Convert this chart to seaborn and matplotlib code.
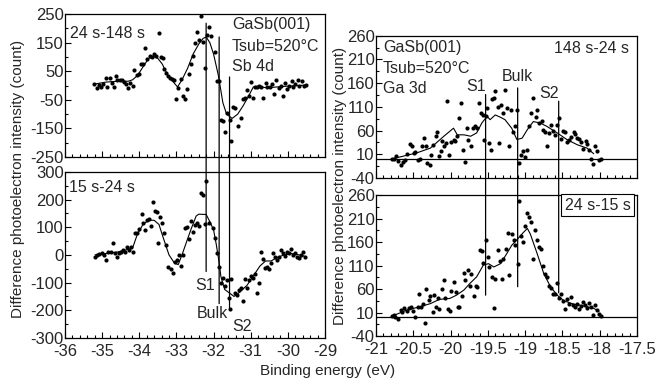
import numpy as np
import pandas as pd
import matplotlib
matplotlib.use("Agg")
import matplotlib.pyplot as plt
from matplotlib.patches import ConnectionPatch
from matplotlib.ticker import MultipleLocator, AutoMinorLocator, FormatStrFormatter
import seaborn as sns

# ---- Sb 4d, 24 s - 148 s (top left) ----
sb_top_e = [-35.21, -35.15, -35.08, -35.03, -34.97, -34.90, -34.86, -34.79, -34.74, -34.68,
            -34.63, -34.59, -34.52, -34.46, -34.41, -34.36, -34.31, -34.25, -34.18, -34.13,
            -34.07, -34.02, -33.96, -33.89, -33.84, -33.78, -33.71, -33.66, -33.60, -33.55,
            -33.48, -33.42, -33.37, -33.33, -33.28, -33.23, -33.17, -33.12, -33.06, -33.01,
            -32.95, -32.89, -32.83, -32.78, -32.72, -32.67, -32.62, -32.56, -32.51, -32.45,
            -32.40, -32.35, -32.29, -32.24, -32.18, -32.13, -32.08, -31.97, -31.92, -31.86,
            -31.81, -31.75, -31.68, -31.63, -31.57, -31.52, -31.47, -31.41, -31.34, -31.27,
            -31.22, -31.16, -31.11, -31.05, -31.00, -30.95, -30.89, -30.84, -30.78, -30.73,
            -30.66, -30.60, -30.55, -30.48, -30.43, -30.37, -30.32, -30.25, -30.19, -30.14,
            -30.08, -30.01, -29.96, -29.90, -29.85, -29.80, -29.74, -29.69, -29.63, -29.56,
            -29.51]
sb_top_i = [6, -8, 2, -5, 7, 27, -5, 27, 10, -5,
            33, 21, 19, 21, 12, 4, -8, 10, -2, 55,
            36, 39, 74, 75, 132, 93, 105, 99, 111, 102,
            183, 99, 98, 57, 45, 33, 27, 24, 19, -48,
            -8, 24, -38, -48, -12, 39, 75, 105, 150, 188,
            158, 242, 152, 63, 176, 206, 174, 117, 16, 16,
            -121, -124, -163, -97, -121, -193, -74, -80, -143, -112,
            -46, -44, -17, -38, 12, -44, -5, -5, 0, -5,
            -44, 10, -5, -5, 4, -31, 21, -8, -2, -38,
            10, -12, -2, 16, -5, 4, 21, 0, 16, 0,
            2]
sb_top_fit_e = [-35.21, -34.9, -34.6, -34.3, -34.18, -34.05, -33.9, -33.75, -33.62, -33.5,
                -33.38, -33.25, -33.1, -32.97, -32.85, -32.7, -32.55, -32.4, -32.28, -32.2,
                -32.1, -32.0, -31.87, -31.75, -31.65, -31.5, -31.35, -31.2, -31.05, -30.93,
                -30.75, -30.55, -30.3, -30.0, -29.7, -29.51]
sb_top_fit_i = [5, 12, 15, 15, 20, 35, 65, 95, 102, 95,
                75, 40, 15, -5, 20, 60, 110, 145, 165, 170,
                150, 110, 35, -60, -100, -115, -100, -70, -35, -5,
                -5, -8, -5, -2, 0, 2]

# ---- Sb 4d, 15 s - 24 s (bottom left) ----
sb_bot_e = [-35.19, -35.13, -35.08, -35.01, -34.95, -34.90, -34.83, -34.76, -34.72, -34.65,
            -34.61, -34.55, -34.50, -34.45, -34.38, -34.34, -34.28, -34.22, -34.18, -34.11,
            -34.05, -34.01, -33.94, -33.89, -33.84, -33.80, -33.75, -33.69, -33.64, -33.59,
            -33.53, -33.49, -33.44, -33.39, -33.33, -33.28, -33.22, -33.15, -33.10, -33.05,
            -32.99, -32.94, -32.89, -32.83, -32.78, -32.72, -32.67, -32.62, -32.56, -32.51,
            -32.45, -32.40, -32.35, -32.29, -32.24, -32.20, -32.13, -32.02, -31.97, -31.92,
            -31.86, -31.81, -31.75, -31.70, -31.65, -31.59, -31.57, -31.54, -31.43, -31.38,
            -31.32, -31.27, -31.22, -31.16, -31.11, -31.05, -31.00, -30.95, -30.89, -30.84,
            -30.78, -30.73, -30.68, -30.62, -30.57, -30.52, -30.46, -30.41, -30.35, -30.30,
            -30.25, -30.19, -30.14, -30.08, -30.03, -29.98, -29.92, -29.87, -29.81, -29.76,
            -29.71, -29.65, -29.60, -29.55]
sb_bot_i = [-6, 0, 4, 8, 0, -18, 12, 12, 42, 6,
            -8, 6, 12, 18, 12, 30, 18, 30, 12, 78,
            80, 92, 148, 116, 90, 126, 128, 104, 192, 160,
            156, 44, 138, 114, 78, 36, -44, -52, -66, -24,
            -20, -1, -40, -1, 96, 102, 56, 124, 84, 108,
            114, 104, 222, 216, 112, 268, 114, 96, 60, 6,
            -44, -102, -84, -114, -90, -156, -195, -88, -136, -144,
            -128, -120, -168, -88, -120, -90, -76, -84, -68, -138,
            -100, 12, -16, -48, -44, -52, -30, 8, -8, -18,
            -8, 16, 8, -4, 12, 6, 22, 0, 8, -6,
            -12, 0, 12, -8]
sb_bot_fit_e = [-35.19, -34.9, -34.6, -34.3, -34.18, -34.05, -33.9, -33.75, -33.6, -33.47,
                -33.35, -33.2, -33.05, -32.95, -32.85, -32.72, -32.6, -32.47, -32.4, -32.2,
                -32.1, -32.0, -31.93, -31.87, -31.8, -31.7, -31.55, -31.45, -31.3, -31.1,
                -30.95, -30.75, -30.6, -30.45, -30.3, -30.1, -29.9, -29.7, -29.55]
sb_bot_fit_i = [0, 5, 10, 20, 25, 75, 110, 125, 125, 110,
                60, 0, -30, -35, 0, 50, 95, 140, 147, 146,
                120, 90, 40, -10, -80, -125, -140, -150, -135, -110,
                -80, -40, -22, -22, -10, 0, 5, 0, -5]

# ---- Ga 3d, 148 s - 24 s (top right) ----
ga_top_e = [-20.79, -20.76, -20.73, -20.70, -20.67, -20.64, -20.61, -20.58, -20.55, -20.52,
            -20.49, -20.47, -20.44, -20.41, -20.38, -20.36, -20.33, -20.31, -20.28, -20.26,
            -20.23, -20.20, -20.18, -20.16, -20.13, -20.11, -20.09, -20.06, -20.05, -20.02,
            -19.99, -19.96, -19.94, -19.91, -19.89, -19.86, -19.83, -19.81, -19.78, -19.76,
            -19.73, -19.70, -19.67, -19.65, -19.62, -19.59, -19.56, -19.55, -19.53, -19.51,
            -19.48, -19.46, -19.44, -19.42, -19.40, -19.37, -19.35, -19.33, -19.30, -19.27,
            -19.24, -19.22, -19.19, -19.16, -19.13, -19.11, -19.08, -19.05, -19.03, -19.00,
            -18.97, -18.95, -18.92, -18.89, -18.86, -18.84, -18.81, -18.78, -18.76, -18.73,
            -18.70, -18.68, -18.65, -18.62, -18.60, -18.57, -18.55, -18.52, -18.49, -18.46,
            -18.44, -18.41, -18.38, -18.35, -18.33, -18.30, -18.28, -18.25, -18.22, -18.19,
            -18.17, -18.14, -18.11, -18.09, -18.06, -18.03, -18.01, -17.98]
ga_top_i = [0, -1, 7, -5, -12, -7, -3, 11, 32, 27,
            13, 14, -3, -1, 27, 44, 28, -8, -12, 9,
            29, 48, 58, 7, 16, 37, 27, 34, 122, 9,
            35, 41, 37, 48, 86, 118, 20, -7, 65, 41,
            27, 65, 70, 65, 119, 97, 93, 41, 90, 108,
            33, 20, 126, 129, 143, 110, 34, 115, 97, 145,
            108, 28, 104, 56, 70, 104, -8, 9, 16, 4,
            20, 70, 97, 129, 89, 104, 77, 81, 62, 58,
            28, 55, 72, 60, 51, 72, 86, 42, 60, 56,
            35, 41, 46, 58, 53, 44, 42, 35, 21, 37,
            32, 18, 0, -10, 27, 16, -3, 0]
ga_top_fit_e = [-20.79, -20.45, -20.27, -20.09, -19.96, -19.91, -19.82, -19.73, -19.65, -19.58,
                -19.51, -19.47, -19.40, -19.33, -19.27, -19.18, -19.11, -19.04, -18.97, -18.89,
                -18.80, -18.71, -18.57, -18.44, -18.30, -18.17, -18.08]
ga_top_fit_i = [0, 13, 23, 48, 65, 51, 51, 48, 55, 76,
                90, 83, 93, 88, 83, 65, 41, 44, 62, 79,
                76, 69, 55, 41, 30, 23, 11]

# ---- Ga 3d, 24 s - 15 s (bottom right) ----
ga_bot_e = [-20.79, -20.76, -20.74, -20.71, -20.67, -20.65, -20.62, -20.59, -20.56, -20.53,
            -20.50, -20.47, -20.44, -20.42, -20.40, -20.37, -20.34, -20.33, -20.29, -20.27,
            -20.24, -20.22, -20.19, -20.17, -20.15, -20.12, -20.09, -20.07, -20.04, -20.01,
            -19.99, -19.96, -19.93, -19.90, -19.88, -19.85, -19.82, -19.80, -19.77, -19.74,
            -19.72, -19.69, -19.66, -19.64, -19.61, -19.58, -19.56, -19.53, -19.50, -19.48,
            -19.45, -19.42, -19.40, -19.37, -19.34, -19.31, -19.29, -19.26, -19.23, -19.21,
            -19.18, -19.15, -19.13, -19.10, -19.08, -19.06, -19.03, -19.00, -18.97, -18.95,
            -18.92, -18.89, -18.87, -18.84, -18.81, -18.79, -18.76, -18.73, -18.71, -18.68,
            -18.65, -18.63, -18.60, -18.57, -18.55, -18.52, -18.49, -18.47, -18.44, -18.41,
            -18.39, -18.36, -18.33, -18.30, -18.28, -18.25, -18.22, -18.20, -18.17, -18.14,
            -18.12, -18.09, -18.06, -18.04, -18.01, -17.98]
ga_bot_i = [2, 5, 1, -3, 15, 12, 19, 14, 19, 22,
            14, 1, 21, 50, 21, 28, -13, 61, 36, 45,
            12, 47, 22, 40, 18, 61, 79, 40, 18, 14,
            55, 75, 54, 22, 22, 45, 94, 80, 101, 66,
            93, 45, 66, 65, 144, 142, 116, 164, 128, 106,
            85, 19, 82, 144, 120, 82, 123, 146, 179, 89,
            177, 164, 153, 114, 247, 172, 160, 194, 222, 213,
            203, 125, 186, 164, 150, 146, 109, 92, 85, 66,
            63, 50, 49, 72, 42, 50, 35, 17, 38, 29,
            43, 26, 22, 28, 17, 24, 33, 26, 19, 31,
            22, 5, 26, 15, 7, 2]
ga_bot_fit_e = [-20.79, -20.59, -20.42, -20.27, -20.15, -20.01, -19.92, -19.82, -19.74, -19.65,
                -19.56, -19.49, -19.42, -19.33, -19.24, -19.18, -19.11, -19.02, -18.97, -18.93,
                -18.84, -18.75, -18.66, -18.57, -18.48, -18.35, -18.21, -18.08, -18.01]
ga_bot_fit_i = [2, 15, 22, 29, 38, 40, 47, 58, 72, 86,
                111, 114, 107, 114, 137, 153, 165, 181, 189, 177,
                136, 93, 65, 47, 35, 28, 24, 19, 12]

# component markers: energy, intensity where line starts (upper panel) and ends (lower panel)
sb_comp_names = ["S1", "Bulk", "S2"]
sb_comp_e = [-32.2, -31.85, -31.57]
sb_comp_top = [218, 170, 30]
sb_comp_bot = [-60, -176, -192]

ga_comp_names = ["S1", "Bulk", "S2"]
ga_comp_e = [-19.53, -19.10, -18.55]
ga_comp_top = [136, 150, 122]
ga_comp_bot = [47, 65, 52]

sample_lines_sb = ["GaSb(001)", "Tsub=520°C", "Sb 4d"]
sample_lines_ga = ["GaSb(001)", "Tsub=520°C", "Ga 3d"]

sns.set_style("ticks")
plt.rcParams['font.family'] = ['Liberation Sans', 'DejaVu Sans']
plt.rcParams['axes.unicode_minus'] = False

fig = plt.figure(figsize=(6.55, 3.81), dpi=100)
ax_lt = fig.add_axes([0.0992, 0.588, 0.397, 0.375])
ax_lb = fig.add_axes([0.0992, 0.113, 0.397, 0.436])
ax_rt = fig.add_axes([0.574, 0.533, 0.3985, 0.373])
ax_rb = fig.add_axes([0.574, 0.118, 0.3985, 0.370])

tick_fs = 12
note_fs = 11.5
label_fs = 11


def draw(ax, e, i, fe, fi):
    sns.scatterplot(x=e, y=i, ax=ax, color="black", s=9, linewidth=0, zorder=3)
    sns.lineplot(x=fe, y=fi, ax=ax, color="black", linewidth=0.8, estimator=None, zorder=2)


def style(ax, xlim, xmaj, ylim, ymaj, show_x):
    ax.set_xlim(*xlim)
    ax.set_ylim(*ylim)
    ax.xaxis.set_major_locator(MultipleLocator(xmaj))
    ax.xaxis.set_minor_locator(AutoMinorLocator(5))
    ax.yaxis.set_major_locator(MultipleLocator(ymaj))
    ax.yaxis.set_minor_locator(AutoMinorLocator(2))
    ax.xaxis.set_major_formatter(FormatStrFormatter('%g'))
    ax.tick_params(which="both", direction="in", labelsize=tick_fs, width=0.8, color="black")
    ax.tick_params(axis="y", pad=1)
    ax.tick_params(axis="x", pad=4)
    ax.tick_params(which="major", length=4)
    ax.tick_params(which="minor", length=2)
    if not show_x:
        ax.tick_params(axis="x", labelbottom=False)
    for sp in ax.spines.values():
        sp.set_color("black")
        sp.set_linewidth(0.9)
    ax.set_xlabel("")
    ax.set_ylabel("")


draw(ax_lt, sb_top_e, sb_top_i, sb_top_fit_e, sb_top_fit_i)
draw(ax_lb, sb_bot_e, sb_bot_i, sb_bot_fit_e, sb_bot_fit_i)
draw(ax_rt, ga_top_e, ga_top_i, ga_top_fit_e, ga_top_fit_i)
draw(ax_rb, ga_bot_e, ga_bot_i, ga_bot_fit_e, ga_bot_fit_i)

style(ax_lt, (-36, -29), 1, (-250, 250), 100, False)
ax_lt.set_yticks([250, 150, 50, -50, -150, -250])
style(ax_lb, (-36, -29), 1, (-300, 300), 100, True)
style(ax_rt, (-21, -17.5), 0.5, (-40, 260), 50, False)
ax_rt.set_yticks([-40, 10, 60, 110, 160, 210, 260])
style(ax_rb, (-21, -17.5), 0.5, (-40, 260), 50, True)
ax_rb.set_yticks([-40, 10, 60, 110, 160, 210, 260])

for ax in (ax_rt, ax_rb):
    ax.axhline(0, color="black", linewidth=0.9, zorder=1)

# component lines crossing both panels
for e, t, b in zip(sb_comp_e, sb_comp_top, sb_comp_bot):
    fig.add_artist(ConnectionPatch((e, t), (e, b), "data", "data", axesA=ax_lt, axesB=ax_lb,
                                   color="black", linewidth=0.9))
for e, t, b in zip(ga_comp_e, ga_comp_top, ga_comp_bot):
    fig.add_artist(ConnectionPatch((e, t), (e, b), "data", "data", axesA=ax_rt, axesB=ax_rb,
                                   color="black", linewidth=0.9))

# text labels
ax_lt.text(0.02, 0.867, "24 s-148 s", transform=ax_lt.transAxes, fontsize=note_fs, va="center")
for txt, yy in zip(sample_lines_sb, [0.93, 0.776, 0.63]):
    ax_lt.text(0.642, yy, txt, transform=ax_lt.transAxes, fontsize=note_fs, va="center")
ax_lb.text(0.015, 0.904, "15 s-24 s", transform=ax_lb.transAxes, fontsize=note_fs, va="center")
ax_lb.text(-31.96, -112, sb_comp_names[0], fontsize=note_fs, ha="right", va="center")
ax_lb.text(-31.62, -210, sb_comp_names[1], fontsize=note_fs, ha="right", va="center")
ax_lb.text(-31.5, -260, sb_comp_names[2], fontsize=note_fs, ha="left", va="center")

for txt, yy in zip(sample_lines_ga, [0.915, 0.77, 0.63]):
    ax_rt.text(0.027, yy, txt, transform=ax_rt.transAxes, fontsize=note_fs, va="center")
ax_rt.text(0.97, 0.908, "148 s-24 s", transform=ax_rt.transAxes, fontsize=note_fs, va="center", ha="right")
ax_rt.text(-19.66, 154, ga_comp_names[0], fontsize=note_fs, ha="center", va="center")
ax_rt.text(-19.11, 175, ga_comp_names[1], fontsize=note_fs, ha="center", va="center")
ax_rt.text(-18.68, 139, ga_comp_names[2], fontsize=note_fs, ha="center", va="center")
ax_rb.text(0.975, 0.929, "24 s-15 s", transform=ax_rb.transAxes, fontsize=note_fs, va="center", ha="right",
           bbox=dict(boxstyle="square,pad=0.2", fc="white", ec="black", lw=0.8))

fig.text(0.0275, 0.53, "Difference photoelectron intensity (count)", rotation=90,
         fontsize=label_fs, ha="center", va="center")
fig.text(0.519, 0.512, "Difference photoelectron intensity (count)", rotation=90,
         fontsize=label_fs, ha="center", va="center")
fig.text(0.5, 0.025, "Binding energy (eV)", fontsize=label_fs, ha="center", va="center")

fig.savefig("out.png", dpi=100)
